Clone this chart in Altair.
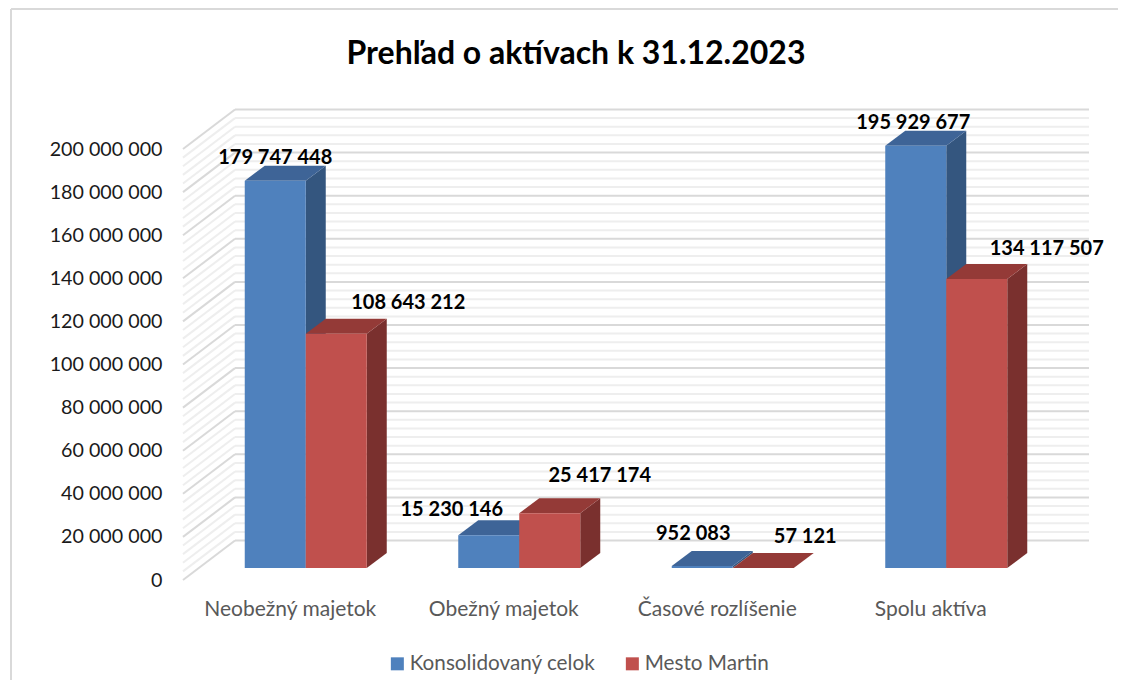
import altair as alt
import pandas as pd

CATEGORIES = ["Neobežný majetok", "Obežný majetok", "Časové rozlíšenie", "Spolu aktíva"]
SERIES = ["Konsolidovaný celok", "Mesto Martin"]
KONSOLIDOVANY = [179747448, 15230146, 952083, 195929677]
MARTIN = [108643212, 25417174, 57121, 134117507]
VALUES = [KONSOLIDOVANY, MARTIN]
TITLE = "Prehľad o aktívach k 31.12.2023"

FONT = "Lato"
PX_X = 1 / 213.5          # category units per pixel
PX_Y = 1 / 2.155e-6       # value units per pixel
W, H = 906, 471
X_DOMAIN = [0, W * PX_X]
Y_DOMAIN = [0, H * PX_Y]
WALL_DX, WALL_DY = 52 * PX_X, 39.5 * PX_Y
BAR_W = 61 * PX_X
BAR_DX, BAR_DY = 20 * PX_X, 15 * PX_Y
SHIFT_X, BASE = 16 * PX_X, 12 * PX_Y

FRONT = ["#4F81BD", "#C0504D"]
TOP = ["#3E6497", "#943A37"]
SIDE = ["#34567F", "#7A302E"]

# hand placed label nudges, in pixels, from the top centre of each front face
NUDGE = [[(0, -22.5), (-37, -25.5), (-9, -31.5), (-2.5, -22.5)],
         [(72, -30.5), (50, -37.5), (42, -30.5), (70, -29.5)]]

xs = alt.Scale(domain=X_DOMAIN, nice=False, zero=False)
ys = alt.Scale(domain=Y_DOMAIN, nice=False, zero=False)

x_labels = "[" + ",".join(f"'{c}'" for c in CATEGORIES) + "][datum.value - 0.5]"
x_axis = alt.Axis(title=None, values=[i + 0.5 for i in range(4)], labelExpr=x_labels,
                  labelFont=FONT, labelFontSize=21, labelColor="#595959",
                  labelPadding=18, domain=False, ticks=False, grid=False, labelAngle=0,
                  labelLimit=300)
y_axis = alt.Axis(title=None, values=list(range(0, 200000001, 20000000)),
                  labelExpr="replace(format(datum.value, ','), /,/g, ' ')",
                  labelFont=FONT, labelFontSize=19.7, labelColor="#1a1a1a",
                  labelPadding=21, labelOffset=0, domain=False, ticks=False, grid=False)
X = lambda f: alt.X(f"{f}:Q", scale=xs, axis=x_axis)
Y = lambda f: alt.Y(f"{f}:Q", scale=ys, axis=y_axis)

# walls
grid = pd.DataFrame({"v": list(range(0, 200000001, 4000000))})
grid["y1"] = grid.v + WALL_DY
grid["x1"] = WALL_DX
grid["x2"] = X_DOMAIN[1]
grid["x0"] = 0.0
grid["major"] = grid.v % 20000000 == 0
minor = grid[~grid.major]
major = grid[grid.major]


def wall(df, color, size):
    back = alt.Chart(df).mark_rule(color=color, size=size).encode(
        x=X("x1"), x2="x2:Q", y=Y("y1"), y2="y1:Q")
    side = alt.Chart(df).mark_rule(color=color, size=size).encode(
        x=X("x0"), x2="x1:Q", y=Y("v"), y2="y1:Q")
    return [back, side]


layers = wall(minor, "#EEEEEE", 2) + wall(major, "#D9D9D9", 2)

# bars
label_rows = []
for s, name in enumerate(SERIES):
    side, top, front = [], [], []
    for c, v in enumerate(VALUES[s]):
        x0 = c + 0.5 + SHIFT_X + (s - 1) * BAR_W
        x1 = x0 + BAR_W
        t = BASE + v
        front.append({"x": x0, "x2": x1, "y": BASE, "y2": t, "series": name})
        side += [{"k": c, "x": x1, "y": t, "y2": BASE},
                 {"k": c, "x": x1 + BAR_DX, "y": t + BAR_DY, "y2": BASE + BAR_DY}]
        top += [{"k": c, "x": x0, "y": t, "y2": t},
                {"k": c, "x": x0 + BAR_DX, "y": t + BAR_DY, "y2": t},
                {"k": c, "x": x1, "y": t + BAR_DY, "y2": t},
                {"k": c, "x": x1 + BAR_DX, "y": t + BAR_DY, "y2": t + BAR_DY}]
        nx, ny = NUDGE[s][c]
        label_rows.append({"x": (x0 + x1) / 2 + nx * PX_X, "y": t - ny * PX_Y,
                           "text": f"{v:,}".replace(",", " ")})
    for rows, col in ((side, SIDE[s]), (top, TOP[s])):
        layers.append(alt.Chart(pd.DataFrame(rows)).mark_area(color=col).encode(
            x=X("x"), y=Y("y"), y2="y2:Q", detail="k:N"))
    layers.append(alt.Chart(pd.DataFrame(front)).mark_rect().encode(
        x=X("x"), x2="x2:Q", y=Y("y"), y2="y2:Q",
        color=alt.Color("series:N",
                        scale=alt.Scale(domain=SERIES, range=FRONT),
                        legend=alt.Legend(title=None, orient="none", legendX=204, legendY=544,
                                          direction="horizontal", columns=2,
                                          symbolType="square", symbolSize=169,
                                          symbolStrokeWidth=0, labelFont=FONT,
                                          labelFontSize=20.7, labelColor="#595959",
                                          labelLimit=300,
                                          labelOffset=2, columnPadding=26, padding=0))))

layers.append(alt.Chart(pd.DataFrame(label_rows)).mark_text(
    font=FONT, fontSize=20, fontWeight="bold", color="#000000", baseline="middle", align="center"
).encode(x=X("x"), y=Y("y"), text="text:N"))

# chart title and frame
one = pd.DataFrame({"t": [TITLE]})
layers.append(alt.Chart(one).mark_text(
    font=FONT, fontSize=32, fontWeight="bold", color="#000000", baseline="middle", align="center"
).encode(x=alt.value(393), y=alt.value(-55), text="t:N"))
layers.append(alt.Chart(one).mark_rule(color="#D9D9D9", size=2).encode(
    x=alt.value(-172), x2=alt.value(935), y=alt.value(-100), y2=alt.value(-100)))
layers.append(alt.Chart(one).mark_rule(color="#D9D9D9", size=2).encode(
    x=alt.value(-172), x2=alt.value(-172), y=alt.value(-100), y2=alt.value(571)))

chart = alt.layer(*layers).properties(
    width=W, height=H,
    autosize=alt.AutoSizeParams(type="none"),
    padding={"left": 175, "top": 101, "right": 29, "bottom": 100},
    background="white",
).configure_view(stroke=None)

chart.save("out.html", embed_options={"renderer": "svg", "actions": False})
